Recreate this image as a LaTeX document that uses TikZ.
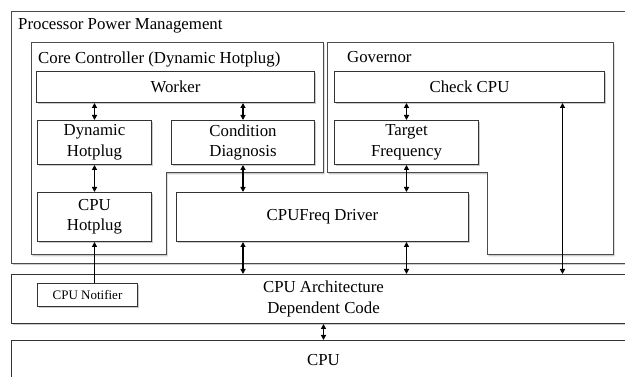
\documentclass[tikz,border=0pt]{standalone}
\usepackage{fontspec}
\setmainfont{Liberation Serif}
\usetikzlibrary{arrows.meta,shadows,calc}

\tikzset{
  shd/.style={drop shadow={shadow xshift=1.5pt,shadow yshift=-1.5pt,fill=black!40,opacity=0.5}},
  box/.style={draw=black!80, line width=1pt, fill=white, shd, inner sep=0pt, align=center,
    anchor=north west, font=\fontsize{16.8}{20.5}\selectfont},
  frame/.style={draw=black!70, line width=1pt, fill=white, shd},
  lbl/.style={anchor=base west, inner sep=0pt, font=\fontsize{16.8}{20.5}\selectfont},
  tipa/.tip={Triangle[length=5pt,width=5pt]},
  dar/.style={tipa-tipa, line width=1.4pt},
  sar/.style={-tipa, line width=1.4pt},
}

\begin{document}
\begin{tikzpicture}[x=1pt,y=-1pt]
\useasboundingbox (0,0) rectangle (625,377);
\clip (0,0) rectangle (625,377);

% Processor Power Management container
\node[frame, anchor=north west, inner sep=0pt, minimum width=640pt, minimum height=252pt] (ppm) at (11,11) {};
\node[lbl] (ppmlbl) at (18,30) {Processor Power Management};

% Core Controller (L-shaped)
\draw[frame] (31,43) -- (323,43) -- (323,173) -- (166,173) -- (166,255) -- (31,255) -- cycle;
\node[lbl] (cclbl) at (38,64) {Core Controller (Dynamic Hotplug)};

% Governor (L-shaped)
\draw[frame] (327,43) -- (613,43) -- (613,255) -- (487,255) -- (487,173) -- (327,173) -- cycle;
\node[lbl] (govlbl) at (347,63) {Governor};

% inner boxes
\node[box, minimum width=278pt, minimum height=31pt] (worker) at (36,71) {Worker};
\node[box, minimum width=114pt, minimum height=44pt] (dynhot) at (37,120) {Dynamic\\Hotplug};
\node[box, minimum width=143pt, minimum height=44pt] (cond) at (171,120) {Condition\\Diagnosis};
\node[box, minimum width=114pt, minimum height=49pt] (cpuhot) at (37,192) {CPU\\Hotplug};
\node[box, minimum width=292pt, minimum height=49pt] (freq) at (176,192) {CPUFreq Driver};
\node[box, minimum width=270pt, minimum height=31pt] (check) at (334,71) {Check CPU};
\node[box, minimum width=144pt, minimum height=44pt] (target) at (334,120) {Target\\Frequency};

% lower layers
\node[box, minimum width=624pt, minimum height=49pt] (arch) at (11,274) {CPU Architecture\\Dependent Code};
\node[box, minimum width=100pt, minimum height=23pt, font=\fontsize{13}{15}\selectfont] (notif) at (37,283) {CPU Notifier};
\node[box, minimum width=624pt, minimum height=40pt] (cpu) at (11,340) {CPU};

% connectors
\draw[dar] (worker.south -| dynhot.north) -- (dynhot.north);
\draw[dar] (worker.south -| cond.north) -- (cond.north);
\draw[dar] (dynhot.south) -- (cpuhot.north);
\draw[dar] (cond.south) -- (cond.south |- freq.north);
\draw[dar] (check.south -| target.north) -- (target.north);
\draw[dar] (target.south) -- (target.south |- freq.north);
\draw[dar] (cond.south |- freq.south) -- (cond.south |- arch.north);
\draw[dar] (target.south |- freq.south) -- (target.south |- arch.north);
\coordinate (chk) at ($(check.south)+(93,0)$);
\draw[dar] (chk) -- (chk |- arch.north);
\draw[sar] (cpuhot.south |- notif.north) -- (cpuhot.south);
\draw[dar] (arch.south) -- (cpu.north);
\end{tikzpicture}
\end{document}
